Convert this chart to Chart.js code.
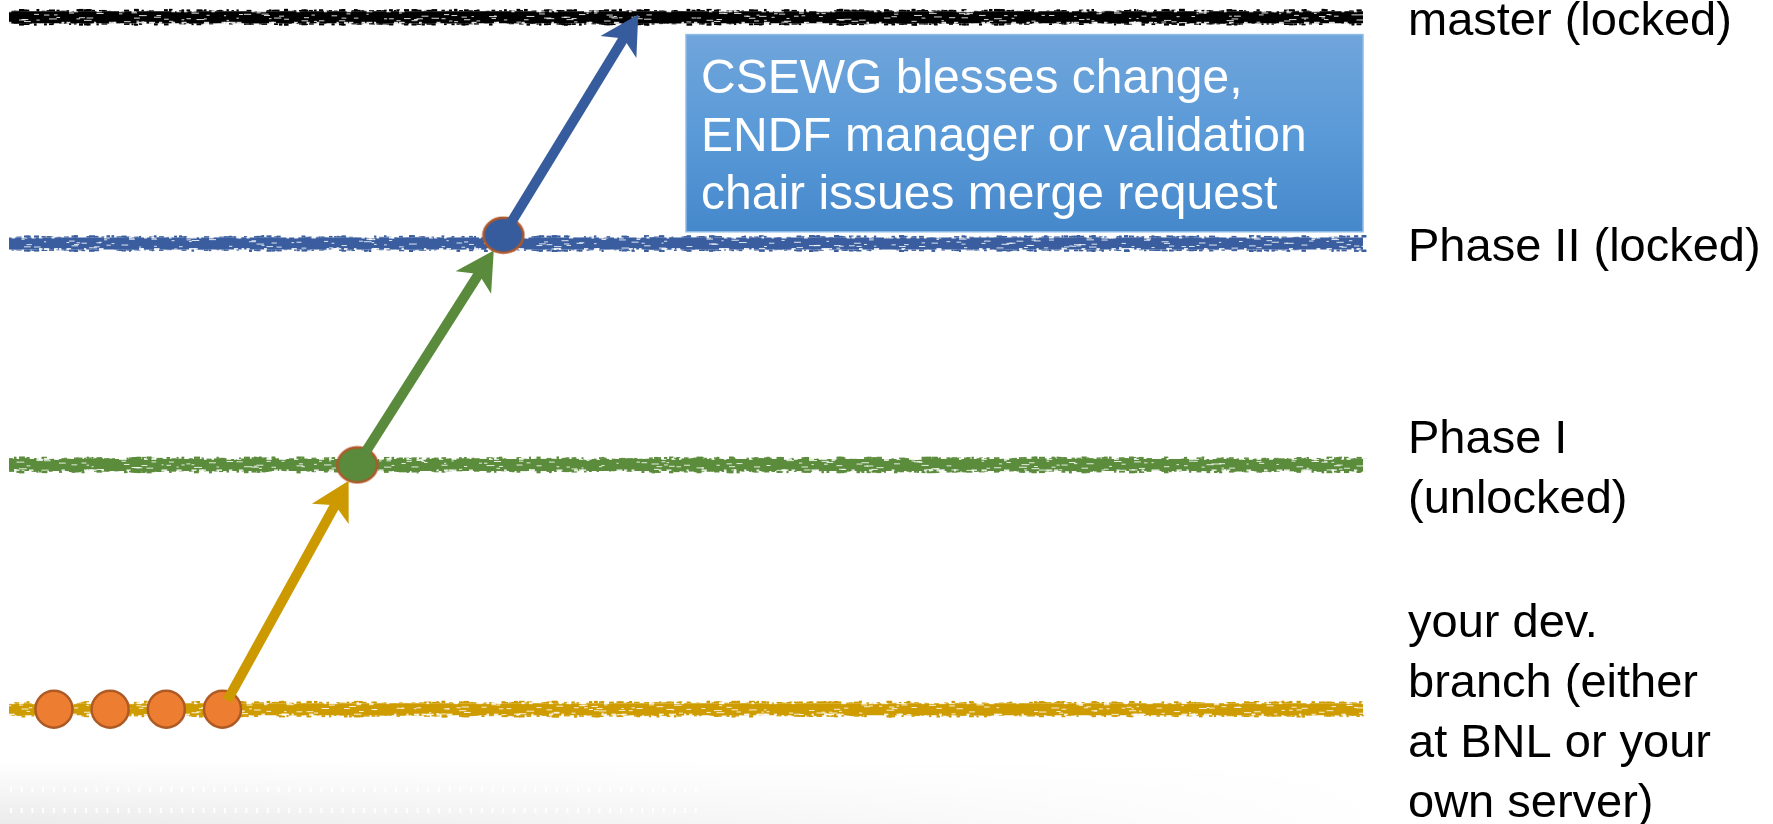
<!DOCTYPE html>
<html>
<head>
<meta charset="utf-8">
<title>ENDF branches</title>
<script src="https://cdn.jsdelivr.net/npm/chart.js@4/dist/chart.umd.min.js"></script>
<style>
  html, body { margin: 0; padding: 0; background: #fff; }
  #chart { width: 1773px; height: 824px; position: relative; }
</style>
</head>
<body>
<div id="chart"><canvas></canvas></div>
<script>
// branch levels, bottom to top
const levelLabels = [
  ["your dev.", "branch (either", "at BNL or your", "own server)"],
  ["Phase I", "(unlocked)"],
  "Phase II (locked)",
  "master (locked)"
];
const levelValues = [0, 35.3, 67.3, 100];

// commits on the dev branch
const devCommitsX = [1, 2, 3, 4];
// merge points (Phase I, Phase II)
const mergeX = [6.4, 9.0];
const mergeY = [35.3, 68.5];
// where the last arrow lands on master
const masterTipX = 11.4;
const masterTipY = 100.4;

const noteLines = ["CSEWG blesses change,", "ENDF manager or validation", "chair issues merge request"];

const X_MIN = 0.2, X_MAX = 24.3;
const FONT = "'Liberation Sans', Arial, Helvetica, sans-serif";

window.addEventListener("load", init);

function init() {
  const levelColors = ["#cf9c00", "#5b8c3c", "#395d9e", "#000000"];

  let datasets = levelValues.map((v, i) => ({
    type: "line",
    data: [{ x: X_MIN, y: v }, { x: X_MAX, y: v }],
    borderColor: levelColors[i],
    borderWidth: 12,
    borderCapStyle: "butt",
    pointRadius: 0,
    rough: true,
    order: 10
  }));

  datasets.push({
    type: "scatter",
    data: devCommitsX.map(x => ({ x: x, y: levelValues[0] })),
    pointRadius: 18.5,
    pointBackgroundColor: "#ed7d31",
    pointBorderColor: "#ad5a24",
    pointBorderWidth: 2.5,
    order: 2
  });

  datasets.push({
    type: "scatter",
    data: mergeX.map((x, i) => ({ x: x, y: mergeY[i] })),
    pointStyle: [ellipseImage("#5a8a3b", "#b0582a"), ellipseImage("#375c9e", "#b0582a")],
    pointRadius: 20,
    order: 1
  });

  const arrows = [
    { from: [devCommitsX[3], levelValues[0]], to: [mergeX[0], mergeY[0]], color: "#cc9a00", endInset: 18 },
    { from: [mergeX[0], mergeY[0]], to: [mergeX[1], mergeY[1]], color: "#5a8a3b", endInset: 18 },
    { from: [mergeX[1], mergeY[1]], to: [masterTipX, masterTipY], color: "#375c9e", endInset: 0 }
  ];

  new Chart(qs("#chart canvas"), {
    data: { datasets: datasets },
    options: {
      responsive: true,
      maintainAspectRatio: false,
      animation: false,
      events: [],
      layout: { autoPadding: false, padding: { left: 9, right: 0, top: 0, bottom: 0 } },
      plugins: { legend: { display: false }, tooltip: { enabled: false } },
      scales: {
        x: { type: "linear", display: false, min: X_MIN, max: X_MAX },
        y: {
          type: "linear",
          position: "right",
          min: -16.6,
          max: 102.5,
          afterBuildTicks: s => { s.ticks = levelValues.map(v => ({ value: v })); },
          afterFit: s => { s.width = 410; s.paddingTop = 0; s.paddingBottom = 0; },
          grid: { display: false, drawTicks: false },
          border: { display: false },
          ticks: {
            autoSkip: false,
            padding: 45,
            crossAlign: "near",
            labelOffset: 5,
            color: "#000",
            font: { family: FONT, size: 47, lineHeight: 1.28 },
            callback: (v, i) => levelLabels[i]
          }
        }
      }
    },
    plugins: [backdrop, roughLines, arrowPlugin(arrows), noteBox]
  });
}

// white page with the faint grey corner of the slide template
const backdrop = {
  id: "backdrop",
  beforeDraw(chart) {
    const ctx = chart.ctx;
    ctx.save();
    ctx.fillStyle = "#fff";
    ctx.fillRect(0, 0, chart.width, chart.height);
    let g = ctx.createLinearGradient(0, 760, 0, 824);
    g.addColorStop(0, "rgba(0,0,0,0)");
    g.addColorStop(1, "rgba(0,0,0,0.08)");
    ctx.fillStyle = g;
    ctx.fillRect(0, 760, 1400, 64);
    // fade out towards the right
    let h = ctx.createLinearGradient(0, 0, 1400, 0);
    h.addColorStop(0, "rgba(255,255,255,0)");
    h.addColorStop(0.5, "rgba(255,255,255,0.5)");
    h.addColorStop(1, "rgba(255,255,255,1)");
    ctx.fillStyle = h;
    ctx.fillRect(0, 760, 1400, 64);
    // rows of light dots
    ctx.fillStyle = "rgba(255,255,255,0.9)";
    [789, 810].forEach(y => {
      for (let x = 10; x < 700; x += 10.7) ctx.fillRect(x, y - 2, 2, 5);
    });
    ctx.restore();
  }
};

function hash(a, b) {
  const n = Math.sin(a * 12.9898 + b * 78.233) * 43758.5453;
  return n - Math.floor(n);
}

// chalky texture on the branch lines
const roughLines = {
  id: "roughLines",
  afterDatasetDraw(chart, args) {
    const ds = chart.data.datasets[args.index];
    if (!ds.rough) return;
    const p = args.meta.data, ctx = chart.ctx, y = p[0].y, half = ds.borderWidth / 2;
    ctx.save();
    for (let x = p[0].x; x < p[1].x; x += 2.5) {
      const a = hash(x, y), b = hash(y, x), c = hash(x + 1, y * 2);
      ctx.fillStyle = ds.borderColor;
      if (a > 0.45) ctx.fillRect(x, y - half - 2.5 * c, 2 + 4 * b, 2.5 * c);
      if (b > 0.45) ctx.fillRect(x, y + half, 2 + 4 * a, 2.5 * c);
      ctx.fillStyle = "rgba(255,255,255,0.85)";
      if (c > 0.62) ctx.fillRect(x, y - half + 1 + a * (2 * half - 2), 2 + 6 * b, 1);
      if (a < 0.15) ctx.fillRect(x, y - half - 1, 2 + 4 * c, 2);
      if (b < 0.15) ctx.fillRect(x, y + half - 1.5, 2 + 4 * c, 2);
    }
    ctx.restore();
  }
};

function arrowPlugin(arrows) {
  return {
    id: "arrows",
    afterDatasetsDraw(chart) {
      const xs = chart.scales.x, ys = chart.scales.y, ctx = chart.ctx;
      arrows.forEach(a => {
        drawArrow(ctx,
          xs.getPixelForValue(a.from[0]), ys.getPixelForValue(a.from[1]),
          xs.getPixelForValue(a.to[0]), ys.getPixelForValue(a.to[1]),
          a.color, 10, a.endInset);
      });
    }
  };
}

function drawArrow(ctx, x0, y0, x1, y1, color, startInset, endInset) {
  const dx = x1 - x0, dy = y1 - y0, len = Math.hypot(dx, dy);
  const ux = dx / len, uy = dy / len, px = -uy, py = ux;
  const sx = x0 + ux * startInset, sy = y0 + uy * startInset;
  const tx = x1 - ux * endInset, ty = y1 - uy * endInset;
  const L = 38, W = 21, N = 28;
  ctx.save();
  ctx.strokeStyle = color;
  ctx.lineWidth = 10;
  ctx.lineCap = "butt";
  ctx.beginPath();
  ctx.moveTo(sx, sy);
  ctx.lineTo(tx - ux * 20, ty - uy * 20);
  ctx.stroke();
  ctx.fillStyle = color;
  ctx.beginPath();
  ctx.moveTo(tx, ty);
  ctx.lineTo(tx - ux * L + px * W, ty - uy * L + py * W);
  ctx.lineTo(tx - ux * N, ty - uy * N);
  ctx.lineTo(tx - ux * L - px * W, ty - uy * L - py * W);
  ctx.closePath();
  ctx.fill();
  ctx.restore();
}

// blue call-out box
const noteBox = {
  id: "noteBox",
  afterDatasetsDraw(chart) {
    const xs = chart.scales.x, ys = chart.scales.y, ctx = chart.ctx;
    const left = xs.getPixelForValue(12.25), right = xs.getPixelForValue(X_MAX);
    const top = ys.getPixelForValue(97.5), bottom = ys.getPixelForValue(69);
    ctx.save();
    let g = ctx.createLinearGradient(0, top, 0, bottom);
    g.addColorStop(0, "#70a5db");
    g.addColorStop(0.5, "#5a9ad8");
    g.addColorStop(1, "#4588cb");
    ctx.fillStyle = g;
    ctx.fillRect(left, top, right - left, bottom - top);
    ctx.strokeStyle = "#8dbbe8";
    ctx.lineWidth = 1.5;
    ctx.strokeRect(left, top, right - left, bottom - top);
    ctx.fillStyle = "#fff";
    ctx.font = "48px " + FONT;
    ctx.textBaseline = "middle";
    const mid = (top + bottom) / 2 + 5, step = 58;
    noteLines.forEach((t, i) => ctx.fillText(t, left + 15, mid + (i - 1) * step));
    ctx.restore();
  }
};

function ellipseImage(fill, stroke) {
  const c = document.createElement("canvas");
  c.width = 44;
  c.height = 39;
  const g = c.getContext("2d");
  g.beginPath();
  g.ellipse(22, 19.5, 20, 17.5, 0, 0, Math.PI * 2);
  g.fillStyle = fill;
  g.fill();
  g.lineWidth = 2.5;
  g.strokeStyle = stroke;
  g.stroke();
  return c;
}

function qs(selector) {
  return document.querySelector(selector);
}
</script>
</body>
</html>
